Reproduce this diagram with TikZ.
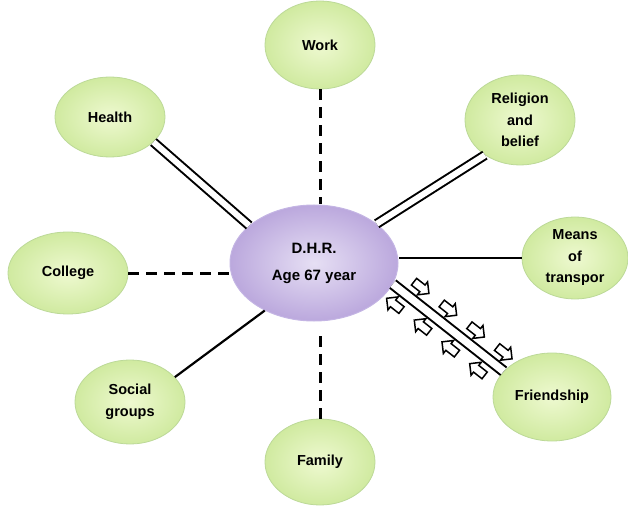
\documentclass[tikz,border=0pt]{standalone}
\usepackage{fontspec}
\setmainfont{Liberation Sans}
\usetikzlibrary{shapes.geometric,shapes.arrows}
\definecolor{gin}{HTML}{EEF9D0}
\definecolor{gout}{HTML}{D0EAA0}
\definecolor{gbd}{HTML}{BCD998}
\definecolor{pin}{HTML}{E6DFF4}
\definecolor{pout}{HTML}{BBA8DD}
\definecolor{pbd}{HTML}{C4B5E4}
\begin{document}
\begin{tikzpicture}[x=1pt,y=-1pt,
 bub/.style={ellipse, draw=gbd, line width=0.8pt, inner color=gin, outer color=gout, inner sep=0pt, align=center, font=\fontsize{14.5}{21.5}\selectfont\bfseries},
 hub/.style={ellipse, draw=pbd, line width=1pt, inner color=pin, outer color=pout, inner sep=0pt, align=center, font=\fontsize{15}{27}\selectfont\bfseries},
 dashlink/.style={line width=3pt, dash pattern=on 11pt off 7pt},
 solidlink/.style={line width=2.2pt},
 duallink/.style={double, double distance=6pt, line width=2pt},
 widelink/.style={double, double distance=7.5pt, line width=2pt},
 flowarrow/.style={single arrow, draw=black, fill=white, line width=1.5pt, minimum height=19pt, inner sep=3.5pt, single arrow head extend=4pt, sloped}
]
\useasboundingbox (0,0) rectangle (628,510);
\node[hub, minimum width=168pt, minimum height=116pt] (c) at (314,263) {D.H.R.\\Age 67 year};
\node[bub, minimum width=110pt, minimum height=88pt] (w) at (320,45) {Work};
\node[bub, minimum width=110pt, minimum height=80pt] (h) at (110,117) {Health};
\node[bub, minimum width=110pt, minimum height=90pt] (r) at (520,120) {Religion\\and\\belief};
\node[bub, minimum width=106pt, minimum height=82pt] (m) at (575,258) {Means\\of\\transpor};
\node[bub, minimum width=120pt, minimum height=82pt] (co) at (68,273) {College};
\node[bub, minimum width=110pt, minimum height=84pt] (s) at (130,402) {Social\\groups};
\node[bub, minimum width=110pt, minimum height=86pt] (f) at (320,462) {Family};
\node[bub, minimum width=118pt, minimum height=88pt] (fr) at (552,397) {Friendship};
% connectors
\draw[dashlink] (w.south) -- (w.south |- c.north);
\draw[dashlink] (co.east) -- (co.east -| c.west);
\draw[dashlink, shorten >=12pt] (f.north) -- (f.north |- c.south);
\draw[solidlink] (m.west) -- (m.west -| c.east);
\draw[solidlink] (s.29) -- (c.224);
\draw[duallink] (h.-30) -- (c.150);
\draw[duallink] (r.225) -- (c.32);
\draw[widelink] (c.-15) -- (fr.152)
  node[flowarrow, pos=0.16, above=15pt, anchor=center] (fa1) {}
  node[flowarrow, pos=0.41, above=15pt, anchor=center] (fa2) {}
  node[flowarrow, pos=0.66, above=15pt, anchor=center] (fa3) {}
  node[flowarrow, pos=0.91, above=15pt, anchor=center] (fa4) {}
  node[flowarrow, shape border rotate=180, pos=0.11, below=15pt, anchor=center] (fb1) {}
  node[flowarrow, shape border rotate=180, pos=0.36, below=15pt, anchor=center] (fb2) {}
  node[flowarrow, shape border rotate=180, pos=0.61, below=15pt, anchor=center] (fb3) {}
  node[flowarrow, shape border rotate=180, pos=0.86, below=15pt, anchor=center] (fb4) {};
\end{tikzpicture}
\end{document}
